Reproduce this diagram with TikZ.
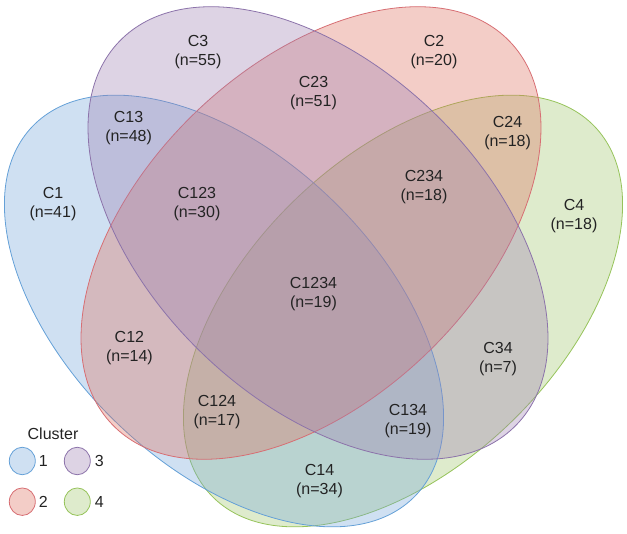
\documentclass[tikz,border=0pt]{standalone}
\usepackage{fontspec}
\setmainfont{Liberation Sans}
\usetikzlibrary{shapes.geometric}
\definecolor{bfill}{RGB}{118,166,218}
\definecolor{rfill}{RGB}{221,112,95}
\definecolor{pfill}{RGB}{157,129,178}
\definecolor{gfill}{RGB}{160,197,109}
\definecolor{bline}{RGB}{100,160,215}
\definecolor{rline}{RGB}{215,110,115}
\definecolor{pline}{RGB}{140,115,170}
\definecolor{gline}{RGB}{150,195,90}
\definecolor{txt}{RGB}{35,35,35}
\begin{document}
\begin{tikzpicture}[x=1pt,y=-1pt,
  lbl/.style={align=center, font=\fontsize{16}{19}\selectfont, text=txt, inner sep=0pt},
  setshape/.style={line width=0.8pt, fill opacity=0.35},
  legdot/.style={ellipse, minimum width=26pt, minimum height=27.5pt, inner sep=0pt, line width=0.8pt, fill opacity=0.35, draw opacity=1},
]
\useasboundingbox (0,0) rectangle (627,534);
% sets
\filldraw[setshape, fill=gfill, draw=gline, shift={(403,311)}, rotate=44] (0,0) ellipse [x radius=266pt, y radius=155pt];
\filldraw[setshape, fill=bfill, draw=bline, shift={(224,311)}, rotate=-44] (0,0) ellipse [x radius=266pt, y radius=155pt];
\filldraw[setshape, fill=rfill, draw=rline, shift={(311,233)}, rotate=44] (0,0) ellipse [x radius=276pt, y radius=167pt];
\filldraw[setshape, fill=pfill, draw=pline, shift={(318,233)}, rotate=-44] (0,0) ellipse [x radius=276pt, y radius=167pt];
% region labels
\node[lbl] (c3) at (198,51.7) {C3\\(n=55)};
\node[lbl] (c2) at (434,51.7) {C2\\(n=20)};
\node[lbl] (c23) at (313.5,93.4) {C23\\(n=51)};
\node[lbl] (c13) at (128.6,128) {C13\\(n=48)};
\node[lbl] (c24) at (507.6,132.7) {C24\\(n=18)};
\node[lbl] (c234) at (424,186.8) {C234\\(n=18)};
\node[lbl] (c1) at (53,204) {C1\\(n=41)};
\node[lbl] (c123) at (197,204) {C123\\(n=30)};
\node[lbl] (c4) at (574,215.6) {C4\\(n=18)};
\node[lbl] (c1234) at (313.5,293.6) {C1234\\(n=19)};
\node[lbl] (c12) at (129.4,347.7) {C12\\(n=14)};
\node[lbl] (c34) at (498,359.3) {C34\\(n=7)};
\node[lbl] (c124) at (217,411.7) {C124\\(n=17)};
\node[lbl] (c134) at (408,421.2) {C134\\(n=19)};
\node[lbl] (c14) at (319.5,481.5) {C14\\(n=34)};
% legend
\node[lbl] (legtitle) at (53,433.7) {Cluster};
\node[legdot, fill=bfill, draw=bline] (lg1) at (22.3,461) {};
\node[legdot, fill=pfill, draw=pline] (lg3) at (77.3,461) {};
\node[legdot, fill=rfill, draw=rline] (lg2) at (22.3,501.7) {};
\node[legdot, fill=gfill, draw=gline] (lg4) at (77.3,501.7) {};
\node[lbl] (lt1) at (43.3,461) {1};
\node[lbl] (lt3) at (99.3,461) {3};
\node[lbl] (lt2) at (43.3,501.7) {2};
\node[lbl] (lt4) at (99.3,501.7) {4};
\end{tikzpicture}
\end{document}
